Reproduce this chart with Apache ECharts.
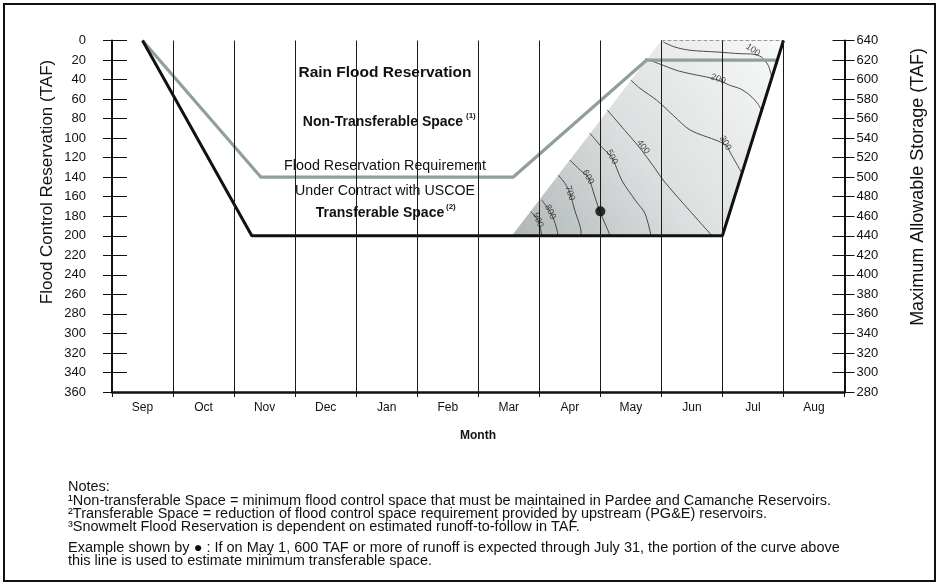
<!DOCTYPE html>
<html><head><meta charset="utf-8">
<script src="https://cdn.jsdelivr.net/npm/echarts@6/dist/echarts.min.js"></script>
<style>html,body{margin:0;padding:0;background:#fff}#c{width:940px;height:583px}</style>
</head><body><div id="c"></div>
<script>
// ---------- data (x = months since start of Sep, y = TAF flood control reservation) ----------
const months = ['Sep','Oct','Nov','Dec','Jan','Feb','Mar','Apr','May','Jun','Jul','Aug'];
const controlX = [0.5, 2.29, 10.0, 11.0];
const controlY = [0, 200, 200, 0];
const requirementX = [0.5, 2.44, 6.57, 8.76, 10.9];
const requirementY = [0, 140, 140, 20, 20];
const snowmeltX = [6.55, 10.0, 11.0, 9.0];
const snowmeltY = [200, 200, 0, 0];
const contour100 = [[9.03,1.5],[9.22,6.7],[9.47,10],[9.91,11.8],[10.29,13.5],[10.5,14],[10.64,17],[10.75,25.4],[10.81,38]];
const contour200 = [[8.74,18.6],[9.03,25.4],[9.25,30.6],[9.47,34],[9.74,37.4],[9.93,40.5],[10.12,45.9],[10.29,49.4],[10.45,56.1],[10.58,64.8],[10.64,71.5]];
const contour300 = [[8.5,40.5],[8.65,49],[8.92,61],[9.2,77],[9.47,91.7],[9.93,103],[10.07,108],[10.13,115],[10.32,136]];
const contour400 = [[8.11,71],[8.4,92],[8.62,108],[8.85,127],[9.03,143],[9.36,167],[9.83,200]];
const contour500 = [[7.83,95],[8.02,109],[8.19,120],[8.35,143],[8.57,163.5],[8.73,177],[8.83,200]];
const contour600 = [[7.5,122.4],[7.67,132.7],[7.8,140],[7.91,160],[7.99,174.7],[8.10,190.8],[8.16,200]];
const contour700 = [[7.31,137.8],[7.42,146.3],[7.5,156],[7.58,173.7],[7.67,190.8],[7.69,200]];
const contour800 = [[7.04,163.4],[7.18,175.7],[7.26,187.3],[7.31,200]];
const contour900 = [[6.86,175.4],[6.98,184],[7.04,200]];
const contourValues = ['100','200','300','400','500','600','700','800','900'];
const contourLabelX = [10.50, 9.93, 10.05, 8.70, 8.19, 7.80, 7.50, 7.18, 6.98];
const contourLabelY = [9.7, 39.4, 105, 109, 119.4, 139.9, 156.2, 175.7, 183.9];
const contourLabelAngle = [-35, -20, -60, -52, -62, -60, -72, -65, -68];
const exampleX = [8.0];
const exampleY = [175];

// ---------- chart ----------
const chart = echarts.init(document.getElementById('c'), null, {renderer: 'canvas'});
const FONT = '"Liberation Sans", Arial, sans-serif';
const ink = '#111';
const zip = (xs, ys) => xs.map((x, i) => [x, ys[i]]);
const contours = [contour100, contour200, contour300, contour400, contour500, contour600, contour700, contour800, contour900];

const series = [];
series.push({
  type: 'custom', z: 1, silent: true,
  data: [0],
  renderItem: function (params, api) {
    const pts = snowmeltX.map((x, i) => api.coord([x, snowmeltY[i]]));
    return {
      type: 'polygon',
      shape: {points: pts},
      style: {
        fill: new echarts.graphic.LinearGradient(0, 1, 1, 0, [
          {offset: 0, color: '#b0b6b6'},
          {offset: 0.45, color: '#dcdfdf'},
          {offset: 1, color: '#f8f9f9'}
        ]),
        stroke: null
      }
    };
  }
});
series.push({
  type: 'line', z: 2, silent: true, symbol: 'none',
  data: [[snowmeltX[3], snowmeltY[3]], [snowmeltX[2], snowmeltY[2]]],
  lineStyle: {color: '#9a9a9a', width: 1, type: [4, 2]}
});
contours.forEach(c => series.push({
  type: 'line', z: 3, silent: true, symbol: 'none', smooth: 0.3,
  data: c, lineStyle: {color: '#3a3a3a', width: 0.9}
}));
series.push({
  type: 'line', z: 4, silent: true, symbol: 'none',
  data: zip(requirementX, requirementY),
  lineStyle: {color: '#8fa099', width: 3.2}
});
series.push({
  type: 'line', z: 5, silent: true, symbol: 'none',
  data: zip(controlX, controlY),
  lineStyle: {color: ink, width: 3}
});
series.push({
  type: 'scatter', z: 6, silent: true, symbol: 'circle', symbolSize: 10,
  itemStyle: {color: '#000'},
  data: zip(exampleX, exampleY)
});
series.push({
  type: 'scatter', z: 7, silent: true, symbolSize: 0,
  data: contourValues.map((v, i) => ({
    value: [contourLabelX[i], contourLabelY[i]],
    label: {show: true, formatter: v, rotate: contourLabelAngle[i], position: 'inside',
      fontSize: 9, fontFamily: FONT, color: '#222'}
  }))
});

function txt(x, y, text, font, align, extra) {
  return Object.assign({type: 'text', x: x, y: y, silent: true,
    style: {text: text, font: font, fill: ink, align: align || 'left', verticalAlign: 'middle'}}, extra || {});
}
const notesFont = '14px ' + FONT;
const notesScale = {scaleX: 1.035};

const graphic = [
  {type: 'rect', shape: {x: 4, y: 4, width: 931, height: 577}, style: {fill: null, stroke: '#111', lineWidth: 2}, silent: true, z: 10},
  txt(385, 73, 'Rain Flood Reservation', 'bold 15.5px ' + FONT, 'center'),
  txt(383, 122, 'Non-Transferable Space', 'bold 14px ' + FONT, 'center'),
  txt(466, 116, '(1)', 'bold 8px ' + FONT),
  txt(385, 166, 'Flood Reservation Requirement', '14.3px ' + FONT, 'center'),
  txt(385, 191, 'Under Contract with USCOE', '14.2px ' + FONT, 'center'),
  txt(380, 213, 'Transferable Space', 'bold 14px ' + FONT, 'center'),
  txt(446, 207, '(2)', 'bold 8px ' + FONT),
  txt(652, 84, '(3)', '8px ' + FONT),
  txt(662, 92, 'Snowmelt', '13px ' + FONT),
  txt(662, 103, 'Flood', '13px ' + FONT),
  txt(662, 114, 'Reservation', '12.5px ' + FONT),
  txt(47, 182, 'Flood Control Reservation (TAF)', '17px ' + FONT, 'center', {rotation: Math.PI / 2}),
  txt(918, 187, 'Maximum Allowable Storage (TAF)', '18px ' + FONT, 'center', {rotation: Math.PI / 2}),
  txt(478, 436, 'Month', 'bold 12px ' + FONT, 'center'),
  txt(68, 487, 'Notes:', notesFont, 'left', notesScale),
  txt(68, 501, '\u00b9Non-transferable Space = minimum flood control space that must be maintained in Pardee and Camanche Reservoirs.', notesFont, 'left', notesScale),
  txt(68, 514, '\u00b2Transferable Space = reduction of flood control space requirement provided by upstream (PG&E) reservoirs.', notesFont, 'left', notesScale),
  txt(68, 527, '\u00b3Snowmelt Flood Reservation is dependent on estimated runoff-to-follow in TAF.', notesFont, 'left', notesScale),
  txt(68, 548, 'Example shown by \u25cf : If on May 1, 600 TAF or more of runoff is expected through July 31, the portion of the curve above', notesFont, 'left', notesScale),
  txt(68, 561, 'this line is used to estimate minimum transferable space.', notesFont, 'left', notesScale)
];

const yBase = {type: 'value', splitLine: {show: false}, axisLine: {show: false},
  axisLabel: {show: false}};
const option = {
  animation: false,
  backgroundColor: '#fff',
  grid: {left: 112, right: 95.5, top: 40.5, bottom: 191, containLabel: false},
  xAxis: [
    {type: 'value', min: 0, max: 12, interval: 1, position: 'bottom', z: 8,
      axisLine: {show: true, onZero: false, lineStyle: {color: ink, width: 2.5}},
      axisTick: {show: true, inside: false, length: 5, lineStyle: {color: ink, width: 1}},
      axisLabel: {show: false},
      splitLine: {show: true, lineStyle: {color: '#1a1a1a', width: 1}}},
    {type: 'category', data: months, boundaryGap: true, position: 'bottom',
      axisLine: {show: false, onZero: false}, axisTick: {show: false}, splitLine: {show: false},
      axisLabel: {margin: 10, fontSize: 12, fontFamily: FONT, color: ink}}
  ],
  yAxis: [
    {type: 'value', inverse: true, min: 0, max: 360, interval: 20, position: 'left', z: 8,
      splitLine: {show: false},
      axisLine: {show: true, onZero: false, lineStyle: {color: ink, width: 2}},
      axisTick: {show: true, inside: false, length: 9, lineStyle: {color: ink, width: 1}},
      axisLabel: {margin: 26, fontSize: 13, fontFamily: FONT, color: ink}},
    Object.assign({}, yBase, {inverse: true, min: 0, max: 360, interval: 20, position: 'left', z: 8,
      axisTick: {show: true, inside: true, length: 15, lineStyle: {color: ink, width: 1}}}),
    {type: 'value', min: 280, max: 640, interval: 20, position: 'right', z: 8,
      splitLine: {show: false},
      axisLine: {show: true, onZero: false, lineStyle: {color: ink, width: 2}},
      axisTick: {show: true, inside: false, length: 10, lineStyle: {color: ink, width: 1}},
      axisLabel: {margin: 12, fontSize: 13, fontFamily: FONT, color: ink}},
    Object.assign({}, yBase, {min: 280, max: 640, interval: 20, position: 'right', z: 8,
      axisTick: {show: true, inside: true, length: 12, lineStyle: {color: ink, width: 1}}})
  ],
  series: series,
  graphic: graphic
};
chart.setOption(option);
</script>
</body></html>
